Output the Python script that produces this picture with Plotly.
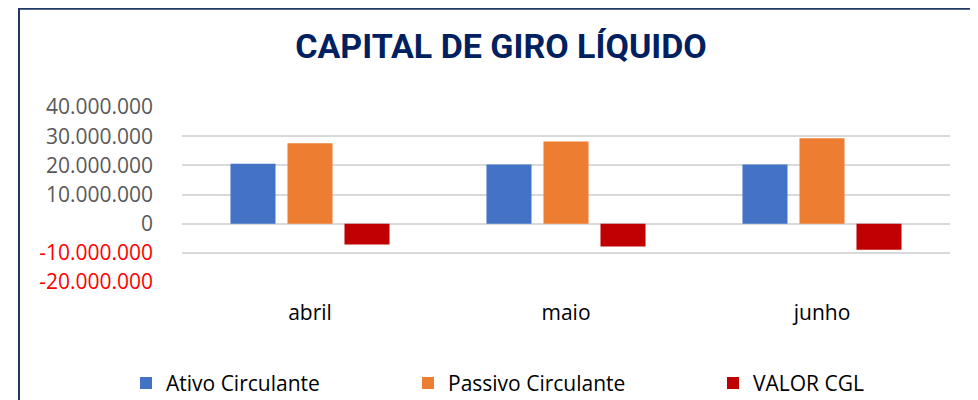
import plotly.graph_objects as go

months = ["abril", "maio", "junho"]
ativo = [20.5e6, 20.3e6, 20.3e6]
passivo = [27.6e6, 28.2e6, 29.3e6]
cgl = [-7.1e6, -7.8e6, -8.9e6]
series_names = ["Ativo Circulante", "Passivo Circulante", "VALOR CGL"]
series_colors = ["#4472C4", "#ED7D31", "#C00000"]
tick_vals = [-20e6, -10e6, 0, 10e6, 20e6, 30e6, 40e6]
tick_text = ["-20.000.000", "-10.000.000", "0", "10.000.000", "20.000.000", "30.000.000", "40.000.000"]
title_text = "CAPITAL DE GIRO LÍQUIDO"

def fmt(v, s):
    color = "#FF0000" if v < 0 else "#595959"
    return f"<span style='color:{color}'>{s}</span>"

# page body has an 8px margin: figure origin sits at page (8, 8)
OFF = 8
W, H = 970, 392
L, R, T, B = 174, 28, 98.7, 118.3
pw, ph = W - L - R, H - T - B

def px(x_page):
    return (x_page - OFF - L) / pw

def py(y_page):
    return (H - B - (y_page - OFF)) / ph

legend_ids = ["legend", "legend2", "legend3"]
legend_text_x = [166, 448, 753]

fig = go.Figure()
for name, vals, col, lid in zip(series_names, [ativo, passivo, cgl], series_colors, legend_ids):
    fig.add_trace(go.Bar(x=months, y=vals, name=name, marker_color=col, marker_line_width=0, legend=lid))

legend_font = dict(family="Open Sans", size=21, color="#000000")
legends = {}
for lid, tx in zip(legend_ids, legend_text_x):
    legends[lid] = dict(orientation="h", x=px(tx - 40), xanchor="left", y=py(383), yanchor="middle",
                        font=legend_font, bgcolor="rgba(0,0,0,0)", borderwidth=0)

fig.update_layout(
    width=W, height=H,
    margin=dict(l=L, r=R, t=T, b=B, autoexpand=False),
    paper_bgcolor="white", plot_bgcolor="white",
    barmode="group", bargap=0.332, bargroupgap=0.21,
    font=dict(family="Open Sans", size=21, color="#000000"),
    title=dict(text=f"<b>{title_text}</b>", xref="container", x=(501 - OFF) / W, xanchor="center",
               yref="container", y=1 - (46.5 - OFF) / H, yanchor="middle",
               font=dict(family="Roboto", size=34, color="#002060")),
    showlegend=True,
    shapes=[
        dict(type="line", xref="paper", yref="paper", x0=px(19), x1=px(19), y0=py(H + 30), y1=py(8.5),
             line=dict(color="#1F3864", width=2)),
        dict(type="line", xref="paper", yref="paper", x0=px(18), x1=px(W + 30), y0=py(8.5), y1=py(8.5),
             line=dict(color="#1F3864", width=2)),
    ],
    **legends,
)
fig.update_xaxes(showgrid=False, showline=False, ticks="", ticklabelstandoff=16,
                 tickfont=dict(family="Open Sans", size=21, color="#000000"))
fig.update_yaxes(range=[-20e6, 40e6], tickvals=tick_vals,
                 ticktext=[fmt(v, s) for v, s in zip(tick_vals, tick_text)],
                 showgrid=True, gridcolor="#D9D9D9", gridwidth=1.5, zeroline=False, showline=False,
                 ticklabelstandoff=28, tickfont=dict(family="Open Sans", size=21))

fig.write_html("out.html")
